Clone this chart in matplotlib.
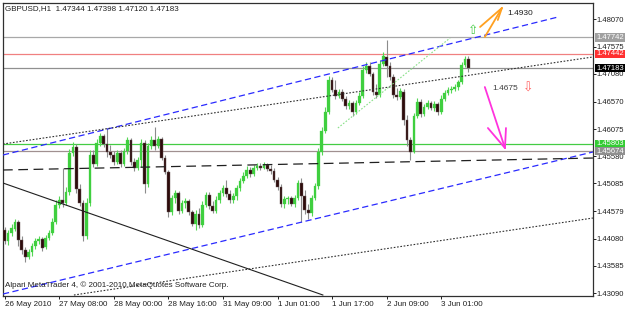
import matplotlib
matplotlib.use('Agg')
import matplotlib.pyplot as plt
import matplotlib.transforms as mtransforms
import numpy as np

plt.rcParams['font.family'] = ['Liberation Sans', 'DejaVu Sans']
plt.rcParams['lines.scale_dashes'] = False

# ---------------- data (GBPUSD H1) ----------------
opens = [1.44237, 1.44037, 1.44182, 1.44255, 1.44383, 1.44055, 1.43873, 1.43746, 1.43837, 1.43946,
         1.44037, 1.44073, 1.43928, 1.44091, 1.44182, 1.44383, 1.44692, 1.44783, 1.44728, 1.44929,
         1.45638, 1.45748, 1.44983, 1.44728, 1.44128, 1.44728, 1.45602, 1.45438, 1.45820, 1.45948,
         1.45802, 1.45657, 1.45602, 1.45475, 1.45638, 1.45438, 1.45675, 1.45875, 1.45475, 1.45365,
         1.45511, 1.45820, 1.45074, 1.45766, 1.45875, 1.45766, 1.45893, 1.45547, 1.45293, 1.44565,
         1.44819, 1.44910, 1.44583, 1.44728, 1.44765, 1.44565, 1.44346, 1.44528, 1.44328, 1.44692,
         1.44874, 1.44674, 1.44583, 1.44783, 1.44910, 1.45001, 1.44892, 1.44783, 1.44856, 1.45001,
         1.45129, 1.45220, 1.45329, 1.45256, 1.45365, 1.45402, 1.45365, 1.45420, 1.45347, 1.45311,
         1.45147, 1.45020, 1.44710, 1.44801, 1.44819, 1.44710, 1.44819, 1.45092, 1.44856, 1.44601,
         1.44546, 1.44819, 1.45038, 1.45657, 1.46039, 1.46384, 1.46967, 1.46785, 1.46676, 1.46748,
         1.46621, 1.46494, 1.46548, 1.46384, 1.46548, 1.46676, 1.47149, 1.47222, 1.47076, 1.46748,
         1.46694, 1.47258, 1.47386, 1.47222, 1.47022, 1.46694, 1.46658, 1.46748, 1.46239, 1.45875,
         1.45657, 1.46312, 1.46567, 1.46348, 1.46476, 1.46548, 1.46457, 1.46530, 1.46384, 1.46621,
         1.46730, 1.46785, 1.46803, 1.46840, 1.46931, 1.47240, 1.47344]
highs = [1.44292, 1.44237, 1.44346, 1.44437, 1.44419, 1.44128, 1.43928, 1.43891, 1.44000, 1.44091,
         1.44128, 1.44110, 1.44146, 1.44237, 1.44455, 1.44783, 1.44856, 1.45365, 1.45020, 1.45711,
         1.45839, 1.45802, 1.45074, 1.44783, 1.44819, 1.45693, 1.45693, 1.45893, 1.46002, 1.45984,
         1.46093, 1.45784, 1.45675, 1.45693, 1.45693, 1.45729, 1.45930, 1.45911, 1.45547, 1.45566,
         1.45893, 1.45875, 1.45820, 1.45948, 1.46112, 1.45948, 1.45930, 1.45602, 1.45329, 1.44874,
         1.44965, 1.44947, 1.44783, 1.44819, 1.44801, 1.44601, 1.44601, 1.44637, 1.44765, 1.44929,
         1.44929, 1.44765, 1.44856, 1.44965, 1.45056, 1.45147, 1.44965, 1.44910, 1.45056, 1.45183,
         1.45293, 1.45402, 1.45384, 1.45420, 1.45456, 1.45456, 1.45475, 1.45456, 1.45420, 1.45365,
         1.45202, 1.45074, 1.44856, 1.44856, 1.44856, 1.44874, 1.45147, 1.45183, 1.44965, 1.44710,
         1.44874, 1.45092, 1.45729, 1.46112, 1.46476, 1.47040, 1.47022, 1.46967, 1.46803, 1.46803,
         1.46676, 1.46603, 1.46585, 1.46603, 1.46748, 1.47222, 1.47295, 1.47295, 1.47113, 1.46894,
         1.47331, 1.47477, 1.47695, 1.47295, 1.47076, 1.46821, 1.46821, 1.46803, 1.46330, 1.45930,
         1.46366, 1.46639, 1.46621, 1.46530, 1.46603, 1.46585, 1.46585, 1.46567, 1.46694, 1.46785,
         1.46840, 1.46858, 1.46894, 1.46967, 1.47295, 1.47404, 1.47398]
lows = [1.43982, 1.43964, 1.44128, 1.44219, 1.43946, 1.43800, 1.43655, 1.43709, 1.43764, 1.43891,
        1.43982, 1.43855, 1.43891, 1.44055, 1.44146, 1.44346, 1.44637, 1.44656, 1.44692, 1.44874,
        1.45584, 1.44910, 1.44674, 1.44037, 1.44073, 1.44674, 1.45384, 1.45402, 1.45766, 1.45748,
        1.45566, 1.45547, 1.45420, 1.45438, 1.45384, 1.45402, 1.45620, 1.45420, 1.45311, 1.45329,
        1.45384, 1.44910, 1.45020, 1.45711, 1.45693, 1.45729, 1.45511, 1.45256, 1.44474, 1.44510,
        1.44728, 1.44528, 1.44546, 1.44637, 1.44510, 1.44310, 1.44237, 1.44273, 1.44292, 1.44656,
        1.44619, 1.44546, 1.44546, 1.44728, 1.44856, 1.44838, 1.44728, 1.44728, 1.44783, 1.44947,
        1.45092, 1.45183, 1.45202, 1.45220, 1.45329, 1.45329, 1.45347, 1.45311, 1.45256, 1.45111,
        1.44965, 1.44656, 1.44637, 1.44710, 1.44674, 1.44656, 1.44783, 1.44383, 1.44528, 1.44437,
        1.44492, 1.44783, 1.44983, 1.45602, 1.46002, 1.46348, 1.46748, 1.46621, 1.46639, 1.46585,
        1.46439, 1.46439, 1.46312, 1.46348, 1.46512, 1.46639, 1.47094, 1.47040, 1.46694, 1.46639,
        1.46658, 1.47222, 1.47022, 1.46967, 1.46639, 1.46603, 1.46621, 1.46148, 1.45766, 1.45511,
        1.45638, 1.46275, 1.46294, 1.46312, 1.46439, 1.46421, 1.46403, 1.46330, 1.46348, 1.46585,
        1.46694, 1.46730, 1.46767, 1.46785, 1.46894, 1.47204, 1.47120]
closes = [1.44037, 1.44182, 1.44273, 1.44383, 1.44055, 1.43873, 1.43746, 1.43837, 1.43946, 1.44037,
          1.44073, 1.43909, 1.44091, 1.44182, 1.44383, 1.44692, 1.44783, 1.44728, 1.44929, 1.45638,
          1.45748, 1.44983, 1.44728, 1.44128, 1.44728, 1.45602, 1.45438, 1.45820, 1.45948, 1.45802,
          1.45657, 1.45602, 1.45475, 1.45638, 1.45438, 1.45675, 1.45875, 1.45475, 1.45365, 1.45511,
          1.45820, 1.45074, 1.45766, 1.45875, 1.45766, 1.45893, 1.45547, 1.45293, 1.44565, 1.44819,
          1.44910, 1.44583, 1.44728, 1.44765, 1.44565, 1.44346, 1.44528, 1.44328, 1.44692, 1.44874,
          1.44674, 1.44583, 1.44783, 1.44910, 1.45001, 1.44892, 1.44783, 1.44856, 1.45001, 1.45129,
          1.45220, 1.45329, 1.45256, 1.45365, 1.45402, 1.45365, 1.45420, 1.45347, 1.45311, 1.45147,
          1.45020, 1.44710, 1.44801, 1.44819, 1.44710, 1.44819, 1.45092, 1.44856, 1.44601, 1.44546,
          1.44819, 1.45038, 1.45657, 1.46039, 1.46384, 1.46967, 1.46785, 1.46676, 1.46748, 1.46621,
          1.46494, 1.46548, 1.46384, 1.46548, 1.46676, 1.47149, 1.47222, 1.47076, 1.46748, 1.46694,
          1.47258, 1.47404, 1.47222, 1.47022, 1.46694, 1.46658, 1.46767, 1.46239, 1.45875, 1.45657,
          1.46312, 1.46567, 1.46348, 1.46476, 1.46548, 1.46457, 1.46530, 1.46384, 1.46621, 1.46730,
          1.46785, 1.46803, 1.46840, 1.46931, 1.47240, 1.47344, 1.47183]

time_tick_bars = [0, 16, 32, 48, 64, 80, 96, 112, 128]
time_tick_labels = ['26 May 2010', '27 May 08:00', '28 May 00:00', '28 May 16:00',
                    '31 May 09:00', '1 Jun 01:00', '1 Jun 17:00', '2 Jun 09:00', '3 Jun 01:00']
price_ticks = [1.48070, 1.47575, 1.47080, 1.46570, 1.46075, 1.45580,
               1.45085, 1.44579, 1.44080, 1.43585, 1.43090]

# horizontal levels: (price, line colour, label box colour)
levels = [(1.47742, '#a8a8a8', '#a0a0a0'),
          (1.47442, '#f08080', '#ff3030'),
          (1.47183, '#909090', '#000000'),
          (1.45803, '#44cc44', '#33cc33'),
          (1.45674, '#a09090', '#909090')]

# trend lines (bar index, price)
upper_blue_x, upper_blue_y = [-0.5, 162.3], [1.45602, 1.48114]
lower_blue_x, lower_blue_y = [-0.5, 172.5], [1.43072, 1.45657]
upper_dot_x, upper_dot_y = [-0.5, 172.5], [1.45802, 1.47386]
lower_dot_x, lower_dot_y = [20.3, 172.5], [1.43054, 1.44455]
dash_x, dash_y = [-0.5, 172.5], [1.45329, 1.45547]
solid_x, solid_y = [-0.5, 93.3], [1.45092, 1.43054]
green_x, green_y = [97.7, 130.6], [1.46093, 1.47731]

# arrows drawn by hand on the chart
orange_tip = (145.8, 1.48277)
orange_tails = [(139.4, 1.47932), (140.8, 1.47750), (144.6, 1.48059)]
magenta_tip = (146.7, 1.45729)
magenta_tails = [(140.8, 1.46839), (141.7, 1.46093), (147.0, 1.46093)]
target_up = (146.7, 1.48186, '1.4930')
target_dn = (142.9, 1.46821, '1.4675')
up_symbol = (137.3, 1.47877)
dn_symbol = (153.5, 1.46821)

header = 'GBPUSD,H1  1.47344 1.47398 1.47120 1.47183'
footer = 'Alpari MetaTrader 4, \u00a9 2001-2010 MetaQuotes Software Corp.'

# ---------------- drawing ----------------
W, H = 625, 310
fig = plt.figure(figsize=(W / 100, H / 100), dpi=100)
fig.patch.set_facecolor('white')
ax = fig.add_axes([3 / W, 14 / H, 590 / W, 293 / H])
ax.set_facecolor('white')

o = np.array(opens); h = np.array(highs); l = np.array(lows); c = np.array(closes)
x = np.arange(len(o))
up = c >= o
dn = ~up

bull = '#3fcf3f'
bear = '#2e0c0c'

ax.vlines(x[up], l[up], h[up], color='#55d855', lw=0.8, zorder=3)
ax.vlines(x[dn], l[dn], h[dn], color='#8c8c8c', lw=0.8, zorder=3)
bottom = np.minimum(o, c)
height = np.maximum(np.abs(c - o), 0.00005)
ax.bar(x[up], height[up], bottom=bottom[up], width=0.8, color=bull,
       edgecolor=bull, lw=0.2, zorder=4)
ax.bar(x[dn], height[dn], bottom=bottom[dn], width=0.8, color=bear,
       edgecolor='#6a5a5a', lw=0.3, zorder=4)

# horizontal levels
for price, lc, bc in levels:
    ax.axhline(price, color=lc, lw=0.9, zorder=2)

# trend lines
ax.plot(upper_blue_x, upper_blue_y, color='#2a2aff', lw=0.9, dashes=(4.5, 2.5), zorder=5)
ax.plot(lower_blue_x, lower_blue_y, color='#2a2aff', lw=0.9, dashes=(4.5, 2.5), zorder=5)
ax.plot(upper_dot_x, upper_dot_y, color='#303030', lw=0.8, dashes=(1.2, 1.2), zorder=5)
ax.plot(lower_dot_x, lower_dot_y, color='#303030', lw=0.8, dashes=(1.2, 1.2), zorder=5)
ax.plot(dash_x, dash_y, color='#202020', lw=0.9, dashes=(7, 4), zorder=5)
ax.plot(solid_x, solid_y, color='#202020', lw=0.8, zorder=5)
ax.plot(green_x, green_y, color='#88e088', lw=0.8, dashes=(1.2, 1.2), zorder=5)

for tx, ty in orange_tails:
    ax.plot([tx, orange_tip[0]], [ty, orange_tip[1]], color='#ffa020', lw=1.3,
            solid_capstyle='round', zorder=6)
for tx, ty in magenta_tails:
    ax.plot([tx, magenta_tip[0]], [ty, magenta_tip[1]], color='#ff33dd', lw=1.3,
            solid_capstyle='round', zorder=6)

ax.text(target_up[0] + 0.8, target_up[1], target_up[2], fontsize=6, color='#202020',
        ha='left', va='center', zorder=7)
ax.text(target_dn[0], target_dn[1], target_dn[2], fontsize=6, color='#404040',
        ha='left', va='center', zorder=7)
ax.text(up_symbol[0], up_symbol[1], '\u21e7', fontsize=9, color='#44cc44',
        ha='center', va='center', family=['DejaVu Sans'], zorder=7)
ax.text(dn_symbol[0], dn_symbol[1], '\u21e9', fontsize=9, color='#ff6060',
        ha='center', va='center', family=['DejaVu Sans'], zorder=7)

ax.text(0.004, 0.982, header, transform=ax.transAxes, fontsize=5.8, color='#202020',
        ha='left', va='center', zorder=7)
ax.text(0.004, 0.038, footer, transform=ax.transAxes, fontsize=5.8, color='#202020',
        ha='left', va='center', zorder=7)

# axes
ax.set_xlim(-0.5, -0.5 + 590 / 3.41)
ax.set_ylim(1.430358, 1.483684)
for s in ax.spines.values():
    s.set_color('#303030')
    s.set_linewidth(0.9)

ax.set_xticks(time_tick_bars)
ax.set_xticklabels(time_tick_labels)
shift = mtransforms.ScaledTranslation(-2.5 / 100, 0, fig.dpi_scale_trans)
for t in ax.get_xticklabels():
    t.set_horizontalalignment('left')
    t.set_transform(t.get_transform() + shift)
ax.tick_params(axis='x', direction='out', length=2.2, width=0.7, labelsize=5.8,
               pad=1.5, colors='#202020')

ax.yaxis.tick_right()
ax.set_yticks(price_ticks)
ax.set_yticklabels(['%.5f' % v for v in price_ticks])
ax.tick_params(axis='y', direction='out', length=2.0, width=0.7, labelsize=5.5,
               pad=0.6, colors='#202020')

trans = mtransforms.blended_transform_factory(ax.transAxes, ax.transData)
for price, lc, bc in levels:
    ax.text(1.0055, price, '%.5f' % price, transform=trans, fontsize=5.5, color='white',
            ha='left', va='center', clip_on=False, zorder=8,
            bbox=dict(boxstyle='square,pad=0.1', fc=bc, ec='none'))

fig.savefig('out.png', dpi=100, facecolor='white')
